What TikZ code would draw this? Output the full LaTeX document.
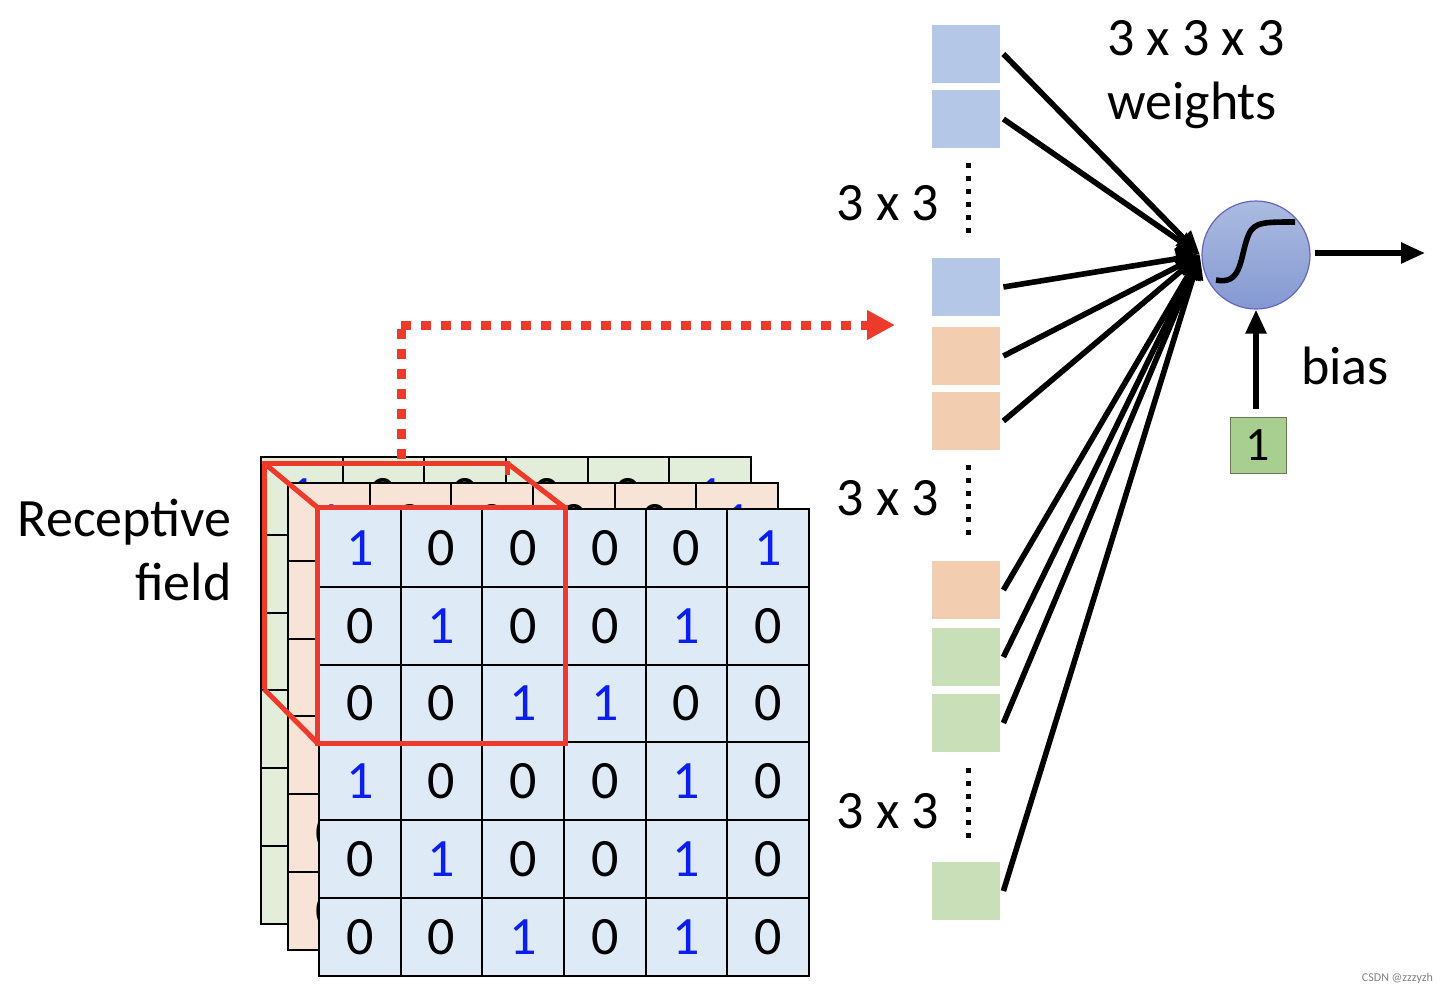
\documentclass[tikz,border=0pt]{standalone}
\usepackage{fontspec}
\setmainfont{Carlito}
\usetikzlibrary{arrows.meta,positioning,shapes.geometric,calc}
\definecolor{wblue}{HTML}{B4C7E7}
\definecolor{wpeach}{HTML}{F2CDB0}
\definecolor{wgreen}{HTML}{C9DFB7}
\definecolor{gblue}{HTML}{DEEAF6}
\definecolor{gpeach}{HTML}{F8E4D6}
\definecolor{ggreen}{HTML}{E3EEDA}
\definecolor{redf}{HTML}{EE3A2B}
\definecolor{oneblue}{HTML}{0A1EF0}
\definecolor{onebox}{HTML}{A9CF90}
\definecolor{ntop}{HTML}{ABBBE0}
\definecolor{nbot}{HTML}{8499D2}
\tikzset{
  cell/.style={draw=black, line width=1pt, minimum width=40.9pt, minimum height=39pt, inner sep=0pt, font=\fontsize{27}{30}\selectfont},
  wbox/.style={minimum width=34pt, minimum height=29pt, inner sep=0pt},
  lbl/.style={font=\fontsize{27}{32}\selectfont, inner sep=0pt},
  wire/.style={line width=2.8pt, -{Triangle[length=12pt,width=10pt]}}
}
\begin{document}
\begin{tikzpicture}[x=0.5pt,y=-0.5pt]
\useasboundingbox (0,0) rectangle (1445,997);
% stacked input channels
\foreach \ch/\dx/\dy/\col in {g/261/457/ggreen, p/288/483/gpeach, b/319/509/gblue}{
  \foreach \row/\vals in {1/{1,0,0,0,0,1},2/{0,1,0,0,1,0},3/{0,0,1,1,0,0},4/{1,0,0,0,1,0},5/{0,1,0,0,1,0},6/{0,0,1,0,1,0}}{
    \foreach \v [count=\c] in \vals{
      \ifnum\v=1 \def\tc{oneblue}\else\def\tc{black}\fi
      \node[cell, fill=\col, text=\tc] (\ch\row\c) at ({\dx+(\c-0.5)*81.7},{\dy+(\row-0.5)*77.8}) {\v};
    }
  }
}
% receptive field
\coordinate (rfa) at (b11.north west);
\coordinate (rfb) at (b13.north east);
\coordinate (rfc) at (b33.south east);
\coordinate (rfd) at (b31.south west);
\coordinate (rfe) at (264,463);
\coordinate (rff) at (507,463);
\coordinate (rfg) at (264,689);
\draw[redf, line width=2.5pt] (rfa) rectangle (rfc);
\draw[redf, line width=2.5pt] (rfg) -- (rfe) -- (rff) -- (507,475);
\draw[redf, line width=2.5pt] (rfe) -- (rfa) (rff) -- (rfb) (rfg) -- (rfd);
\node[lbl, align=right, anchor=east] (recf) at (232,550) {Receptive\\field};
% weights
\foreach \n/\y/\col in {w1/54/wblue, w2/119/wblue, w3/287/wblue, w4/356/wpeach, w5/421/wpeach, w6/590/wpeach, w7/657/wgreen, w8/723/wgreen, w9/891/wgreen}{
  \node[wbox, fill=\col] (\n) at (966,\y) {};
}
\foreach \y in {163,465,768}{
  \draw[line width=2.5pt, dash pattern=on 2.5pt off 4pt] (968,\y) -- ++(0,77);
}
\node[lbl] (k1) at (888,203) {3 x 3};
\node[lbl] (k2) at (888,498) {3 x 3};
\node[lbl] (k3) at (888,811) {3 x 3};
\node[lbl, align=left] (wts) at (1196,75) {3 x 3 x 3\\weights};
% neuron
\node[circle, draw=blue!55!black!60, line width=0.6pt, top color=ntop, bottom color=nbot, minimum size=54pt] (neuron) at (1256,255) {};
\draw[line width=2.8pt] (1216,280) .. controls (1240,285) and (1240,262) .. (1246,242) .. controls (1252,222) and (1258,222) .. (1295,222);
\coordinate (hub) at (1200,255);
\foreach \n/\y in {w1/54, w2/119, w3/287, w4/356, w5/421, w6/590, w7/657, w8/723, w9/891}{
  \draw[wire] ($(\n.east)+(3,0)$) -- (hub);
}
\coordinate (outp) at (1425,253);
\draw[wire] (neuron.east) ++(4,-2) -- (outp);
\node[wbox, fill=onebox, draw=onebox!60!black, line width=0.5pt, minimum width=28pt, minimum height=28pt, font=\fontsize{24}{28}\selectfont] (one) at (1258,445) {1};
\draw[wire] ($(one.north)+(-2,-8)$) -- (neuron.south);
\node[lbl] (bias) at (1345,366) {bias};
\node[font=\fontsize{6}{7}\selectfont, text=gray, anchor=south east] (wm) at (1440,990) {CSDN @zzzyzh};
% link to the weights
\coordinate (start) at (401,459);
\coordinate (bend) at (401,325);
\draw[redf, line width=4.5pt, dash pattern=on 5pt off 5pt] (start) -- (bend);
\draw[redf, line width=4.5pt, dash pattern=on 5pt off 5pt, -{Triangle[length=14pt,width=14pt]}] (bend) -- (895,325);
\end{tikzpicture}
\end{document}
